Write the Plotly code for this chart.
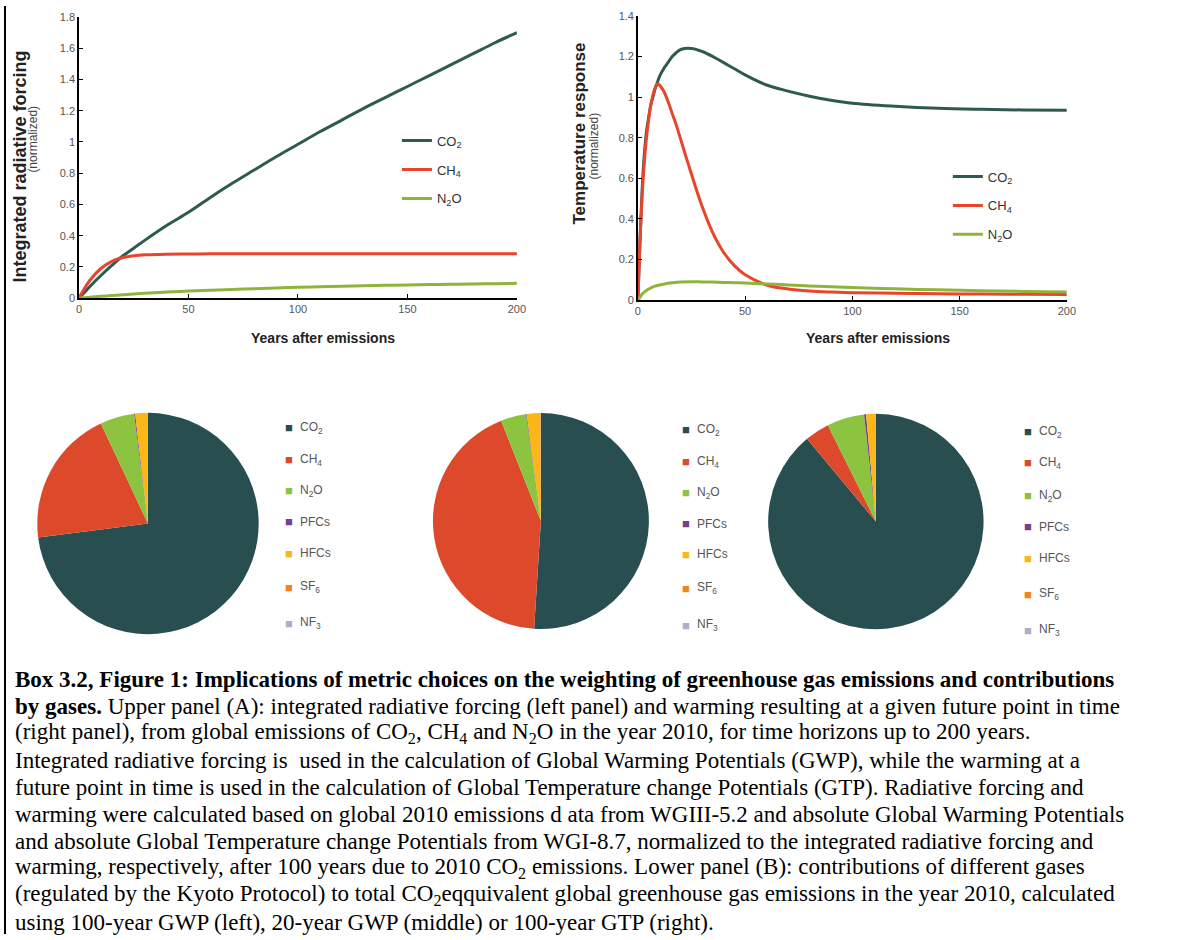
import plotly.graph_objects as go

W, H = 1181, 940

# ---------------- data ----------------
gas_lines = ["CO<sub>2</sub>", "CH<sub>4</sub>", "N<sub>2</sub>O"]
line_colors = ["#2f5a52", "#e8452b", "#8fb43c"]

years_rf = [0, 2, 5, 10, 15, 20, 25, 30, 40, 50, 60, 70, 80, 90, 100,
            110, 120, 130, 140, 150, 160, 170, 180, 190, 200]
co2_rf = [0, 0.03, 0.075, 0.145, 0.21, 0.27, 0.32, 0.37, 0.465, 0.55, 0.645,
          0.735, 0.82, 0.905, 0.985, 1.065, 1.14, 1.215, 1.285, 1.355, 1.425,
          1.495, 1.565, 1.635, 1.70]
ch4_rf = [0, 0.05, 0.115, 0.19, 0.235, 0.26, 0.272, 0.278, 0.282, 0.283, 0.284,
          0.284, 0.284, 0.285, 0.285, 0.285, 0.285, 0.285, 0.285, 0.285, 0.285,
          0.285, 0.285, 0.285, 0.285]
n2o_rf = [0, 0.002, 0.006, 0.012, 0.017, 0.022, 0.027, 0.031, 0.039, 0.046,
          0.051, 0.056, 0.06, 0.065, 0.07, 0.073, 0.076, 0.079, 0.082, 0.085,
          0.087, 0.089, 0.091, 0.093, 0.095]

years_t = [0, 1, 2, 3, 4, 5, 6, 7, 8, 9, 10, 12, 14, 16, 18, 20, 25, 30, 35,
           40, 45, 50, 60, 70, 80, 90, 100, 120, 140, 160, 180, 200]
co2_t = [0, 0.3, 0.55, 0.72, 0.83, 0.9, 0.96, 1.0, 1.04, 1.07, 1.1, 1.14, 1.17,
         1.2, 1.22, 1.235, 1.24, 1.225, 1.2, 1.17, 1.14, 1.11, 1.06, 1.03,
         1.005, 0.985, 0.97, 0.955, 0.945, 0.94, 0.937, 0.935]
ch4_t = [0, 0.3, 0.52, 0.68, 0.8, 0.89, 0.96, 1.01, 1.045, 1.065, 1.06, 1.03,
         0.98, 0.92, 0.86, 0.79, 0.62, 0.46, 0.33, 0.235, 0.17, 0.125, 0.075,
         0.055, 0.045, 0.04, 0.037, 0.034, 0.032, 0.03, 0.029, 0.028]
n2o_t = [0, 0.015, 0.03, 0.04, 0.048, 0.055, 0.06, 0.065, 0.069, 0.072, 0.075,
         0.079, 0.083, 0.086, 0.088, 0.09, 0.091, 0.09, 0.089, 0.087, 0.086,
         0.084, 0.08, 0.075, 0.07, 0.066, 0.062, 0.056, 0.051, 0.047, 0.043,
         0.04]

x_ticks = [0, 50, 100, 150, 200]

pie_labels = ["CO<sub>2</sub>", "CH<sub>4</sub>", "N<sub>2</sub>O", "PFCs",
              "HFCs", "SF<sub>6</sub>", "NF<sub>3</sub>"]
pie_colors = ["#284e4f", "#dd4a2b", "#8cc43f", "#7a3e8e", "#fbb617",
              "#f58220", "#aeaecb"]
gwp100 = [73, 20, 5, 0.15, 1.7, 0.1, 0.05]
gwp20 = [51, 43, 3.8, 0.1, 2.0, 0.08, 0.02]
gtp100 = [89, 3.7, 5.6, 0.3, 1.3, 0.1, 0.05]

caption_lines = [
    "<b>Box 3.2, Figure 1: Implications of metric choices on the weighting of greenhouse gas emissions and contributions</b>",
    "<b>by gases.</b> Upper panel (A): integrated radiative forcing (left panel) and warming resulting at a given future point in time",
    "(right panel), from global emissions of CO<sub>2</sub>, CH<sub>4</sub> and N<sub>2</sub>O in the year 2010, for time horizons up to 200 years.",
    "Integrated radiative forcing is  used in the calculation of Global Warming Potentials (GWP), while the warming at a",
    "future point in time is used in the calculation of Global Temperature change Potentials (GTP). Radiative forcing and",
    "warming were calculated based on global 2010 emissions d ata from WGIII-5.2 and absolute Global Warming Potentials",
    "and absolute Global Temperature change Potentials from WGI-8.7, normalized to the integrated radiative forcing and",
    "warming, respectively, after 100 years due to 2010 CO<sub>2</sub> emissions. Lower panel (B): contributions of different gases",
    "(regulated by the Kyoto Protocol) to total CO<sub>2</sub>eqquivalent global greenhouse gas emissions in the year 2010, calculated",
    "using 100-year GWP (left), 20-year GWP (middle) or 100-year GTP (right).",
]


# positions below are given in screenshot pixels; small empirical correction
def px(x):
    return ((x - 2) / 0.99) / W


def py(y):
    return 1 - ((y - 5) / 0.99) / H


SANS = "Liberation Sans, Arial"

fig = go.Figure()

# ---------------- line charts ----------------
for name, ys, col in zip(gas_lines, [co2_rf, ch4_rf, n2o_rf], line_colors):
    fig.add_trace(go.Scatter(x=years_rf, y=ys, name=name, mode="lines",
                             line=dict(color=col, width=3, shape="spline"),
                             xaxis="x", yaxis="y", legend="legend",
                             legendgroup="a" + name))
for name, ys, col in zip(gas_lines, [co2_t, ch4_t, n2o_t], line_colors):
    fig.add_trace(go.Scatter(x=years_t, y=ys, name=name, mode="lines",
                             line=dict(color=col, width=3, shape="spline"),
                             xaxis="x2", yaxis="y2", legend="legend2",
                             legendgroup="b" + name))

# ---------------- pies ----------------
pie_domains = [
    (36, 258, 413, 635),
    (432, 648, 413, 630),
    (767, 983, 414, 630),
]
for vals, (x0, x1, y0, y1) in zip([gwp100, gwp20, gtp100], pie_domains):
    fig.add_trace(go.Pie(labels=pie_labels, values=vals, sort=False,
                         direction="clockwise", rotation=0,
                         marker=dict(colors=pie_colors, line=dict(width=0)),
                         textinfo="none", hoverinfo="label+percent",
                         showlegend=False,
                         domain=dict(x=[px(x0), px(x1)], y=[py(y1), py(y0)])))

tickfont = dict(family=SANS, size=11, color="#555")
axis_common = dict(showgrid=False, zeroline=False, showline=True,
                   linecolor="black", linewidth=1.5, ticks="inside",
                   ticklen=4, tickcolor="black", tickfont=tickfont)

annotations = []


def add_text(x, y, text, size, color="#222", angle=0, xanchor="center",
             family=SANS):
    annotations.append(dict(x=px(x), y=py(y), xref="paper", yref="paper",
                            text=text, showarrow=False, textangle=angle,
                            xanchor=xanchor, yanchor="middle",
                            font=dict(family=family, size=size, color=color)))


# axis titles
add_text(19, 166, "<b>Integrated radiative forcing</b>", 18, angle=-90)
add_text(32, 138, "(normalized)", 12, color="#444", angle=-90)
add_text(322, 338, "<b>Years after emissions</b>", 14)
add_text(579, 133, "<b>Temperature response</b>", 17, angle=-90)
add_text(593, 145, "(normalized)", 12, color="#444", angle=-90)
add_text(877, 338, "<b>Years after emissions</b>", 14)

# pie legends (drawn as text)
legend_pos = [
    (288, [428, 460, 491, 522, 554, 588, 624]),
    (685, [430, 462, 493, 524, 555, 589, 626]),
    (1027, [432, 463, 496, 527, 559, 595, 631]),
]
for lx, ys in legend_pos:
    for lab, col, yy in zip(pie_labels, pie_colors, ys):
        add_text(lx, yy, "■", 13, color=col)
        add_text(lx + 9, yy, lab, 12, color="#555", xanchor="left")

# caption
for i, line in enumerate(caption_lines):
    add_text(12, 680 + i * 27.1, line, 23, color="black", xanchor="left",
             family="Liberation Serif, Times New Roman")

legend_font = dict(family=SANS, size=13, color="#333")
fig.update_layout(
    width=W, height=H,
    margin=dict(l=0, r=0, t=0, b=0),
    paper_bgcolor="white", plot_bgcolor="white",
    xaxis=dict(domain=[px(78), px(516)], range=[0, 200], tickvals=x_ticks,
               anchor="y", **axis_common),
    yaxis=dict(domain=[py(298), py(16)], range=[0, 1.8], dtick=0.2,
               anchor="x", **axis_common),
    xaxis2=dict(domain=[px(637), px(1066)], range=[0, 200], tickvals=x_ticks,
                anchor="y2", **axis_common),
    yaxis2=dict(domain=[py(300), py(15)], range=[0, 1.4], dtick=0.2,
                anchor="x2", **axis_common),
    legend=dict(x=px(396), y=py(125), xanchor="left", yanchor="top",
                bgcolor="rgba(0,0,0,0)", tracegroupgap=9, font=legend_font),
    legend2=dict(x=px(947), y=py(161), xanchor="left", yanchor="top",
                 bgcolor="rgba(0,0,0,0)", tracegroupgap=9, font=legend_font),
    annotations=annotations,
    shapes=[dict(type="line", xref="paper", yref="paper", x0=px(4), x1=px(4),
                 y0=0, y1=1, line=dict(color="black", width=2))],
)

fig.write_html(
    "out.html",
    config={"displayModeBar": False},
    post_script="document.body.style.margin='0';"
                "document.body.style.overflow='hidden';",
)
